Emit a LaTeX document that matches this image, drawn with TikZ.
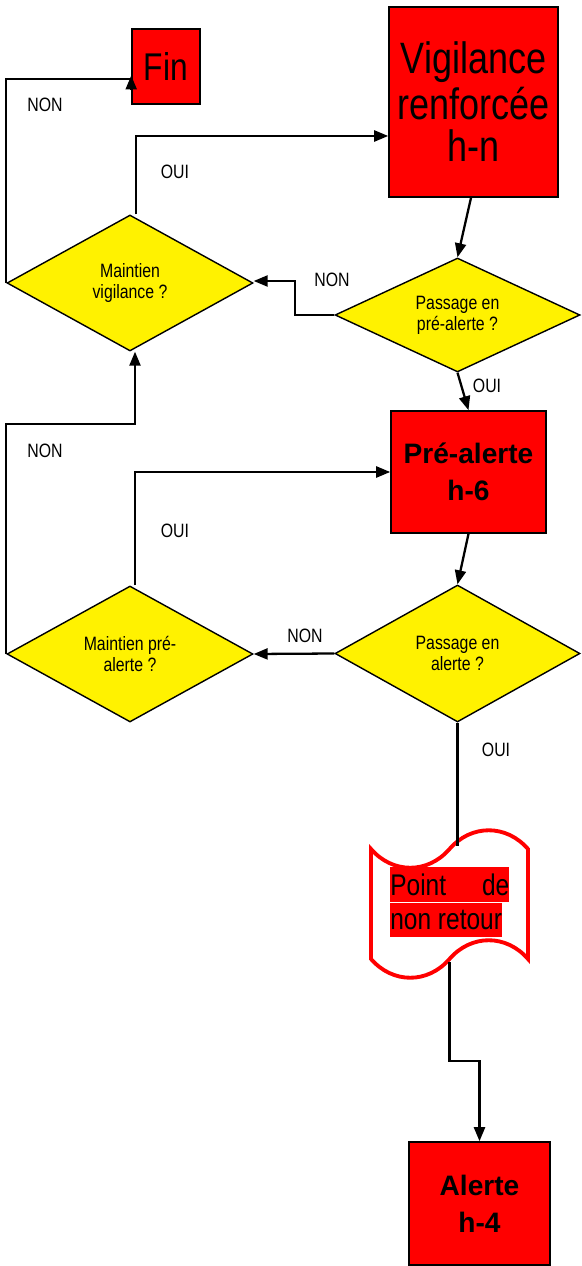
\documentclass[tikz,border=0pt]{standalone}
\usepackage{fontspec}
\setmainfont{Liberation Sans}
\newfontfamily\narrowfont[FakeStretch=0.82]{Liberation Sans}
\usetikzlibrary{shapes,arrows.meta,positioning}

\begin{document}
\begin{tikzpicture}[x=0.02cm, y=-0.02cm,
    redbox/.style={rectangle, draw=black, line width=0.9pt, fill=red, inner sep=0pt, align=center},
    decision/.style={diamond, draw=black, line width=0.8pt, fill=yellow, aspect=2, inner sep=0pt, align=center, font=\narrowfont\fontsize{11}{12}\selectfont},
    answer/.style={font=\narrowfont\fontsize{11}{12}\selectfont},
    flag/.style={tape, draw=red, line width=2.2pt, minimum width=3.14cm, minimum height=2.95cm, tape bend height=0.75cm},
    flagtext/.style={fill=red, inner sep=0pt, anchor=north west, font=\narrowfont\fontsize{17}{18}\selectfont},
    link/.style={line width=1.3pt},
    arrow/.style={line width=1.3pt, -{Triangle[length=0.28cm,width=0.22cm]}}
]
\useasboundingbox (0,0) rectangle (581,1266);

% States
\node[redbox, minimum width=1.36cm, minimum height=1.5cm, font=\narrowfont\fontsize{22}{24}\selectfont] (fin) at (166,66.5) {Fin};
\node[redbox, minimum width=3.38cm, minimum height=3.8cm, font=\narrowfont\fontsize{25}{26}\selectfont] (vig) at (473.5,102) {Vigilance\\renforcée\\[-2pt]h-n};
\node[redbox, minimum width=3.1cm, minimum height=2.44cm, font=\bfseries\fontsize{16}{21}\selectfont] (pre) at (468.5,472) {Pré-alerte\\h-6};
\node[redbox, minimum width=2.82cm, minimum height=2.46cm, font=\bfseries\fontsize{16}{21}\selectfont] (ale) at (479.5,1203.5) {Alerte\\h-4};

% Decisions
\node[decision, minimum width=4.92cm, minimum height=2.72cm] (mv) at (130,283) {Maintien\\vigilance ?};
\node[decision, minimum width=4.9cm, minimum height=2.28cm] (ppa) at (457.5,315) {Passage en\\pré-alerte ?};
\node[decision, minimum width=4.92cm, minimum height=2.72cm] (mpa) at (130,654) {Maintien pré-\\alerte ?};
\node[decision, minimum width=4.9cm, minimum height=2.74cm] (pal) at (457.5,653.5) {Passage en\\alerte ?};

% Point of no return
\node[flag] (pnr) at (449.5,904) {};
\node[flagtext, minimum height=0.7cm] (pnrtop) at (390,867) {\makebox[2.38cm][s]{Point de}};
\node[flagtext, minimum height=0.68cm] (pnrbot) at (pnrtop.south west) {non retour};

% Connections
\draw[arrow] ([xshift=-0.05cm]vig.south) -- (ppa.north);
\draw[arrow] (ppa.south) -- (pre.north);
\draw[arrow] (ppa.west) -- ++(-39,0) |- ([yshift=0.04cm]mv.east);
\draw[arrow] ([xshift=0.12cm]mv.north) |- ([yshift=-0.68cm]vig.west);
\draw[link] (mv.west) |- ([yshift=-0.25cm]fin.west);
\draw[arrow] ([yshift=-0.48cm]fin.west) -- ([yshift=-0.18cm]fin.west);

\draw[arrow] (pre.south) -- (pal.north);
\draw[arrow] (pal.west) -- (mpa.east);
\draw[arrow] ([xshift=0.1cm]mpa.north) |- (pre.west);
\draw[arrow] (mpa.west) -- ++(0,-230) -| ([xshift=0.1cm]mv.south);
\draw[link] (pal.south) -- (pal.south |- pnr.north);
\draw[arrow] (pnr.south) |- ([yshift=1.6cm]ale.north) -- (ale.north);

% Answers
\node[answer] (non1) at (45,105) {NON};
\node[answer] (oui1) at (175,172) {OUI};
\node[answer] (non2) at (332,280) {NON};
\node[answer] (oui2) at (487,386) {OUI};
\node[answer] (non3) at (45,451) {NON};
\node[answer] (oui3) at (175,531) {OUI};
\node[answer] (non4) at (305,636) {NON};
\node[answer] (oui4) at (496,750) {OUI};

\end{tikzpicture}
\end{document}
